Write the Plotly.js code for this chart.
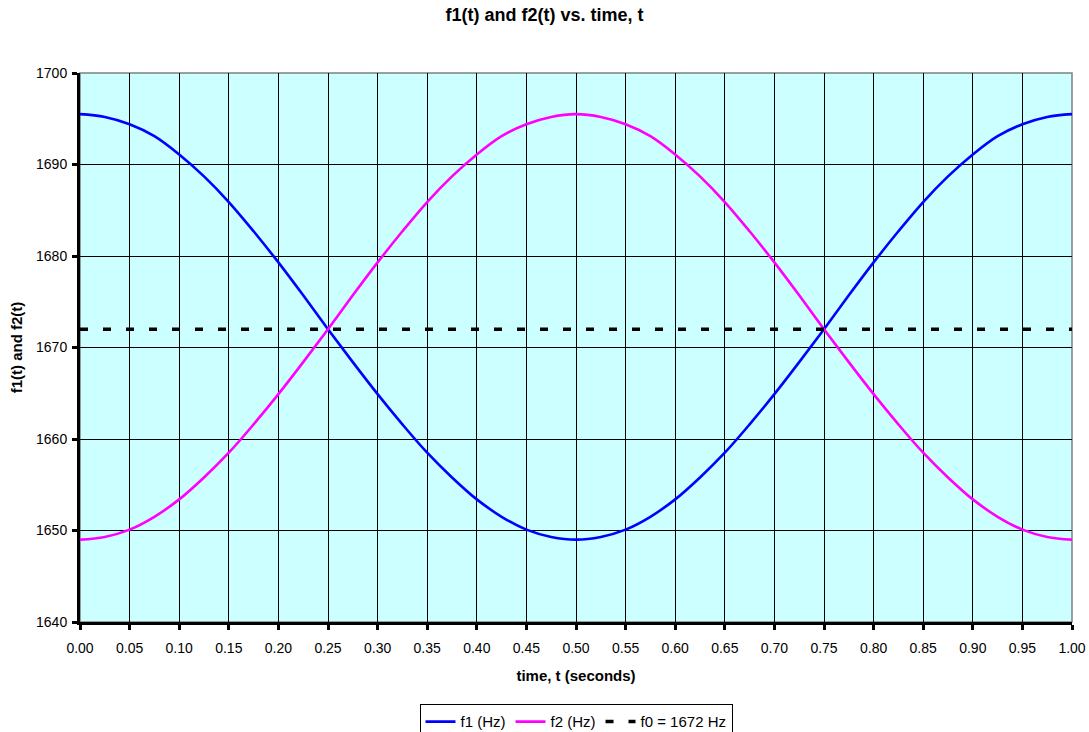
<!DOCTYPE html>
<html>
<head>
<meta charset="utf-8">
<script src="https://cdn.plot.ly/plotly-3.0.1.min.js"></script>
<style>
html,body{margin:0;padding:0;background:#fff;}
#chart{width:1089px;height:732px;}
</style>
</head>
<body>
<div id="chart"></div>
<script>
// time points (seconds)
var t = [0.000,0.025,0.050,0.075,0.100,0.125,0.150,0.175,0.200,0.225,0.250,0.275,0.300,0.325,0.350,0.375,0.400,0.425,0.450,0.475,
         0.500,0.525,0.550,0.575,0.600,0.625,0.650,0.675,0.700,0.725,0.750,0.775,0.800,0.825,0.850,0.875,0.900,0.925,0.950,0.975,1.000];
// f1(t) in Hz
var f1 = [1695.5,1695.2,1694.4,1693.1,1691.1,1688.7,1685.9,1682.7,1679.3,1675.7,1672.0,1668.4,1664.9,1661.6,1658.5,1655.8,1653.4,1651.5,1650.1,1649.3,
          1649.0,1649.3,1650.1,1651.5,1653.4,1655.8,1658.5,1661.6,1664.9,1668.4,1672.0,1675.7,1679.3,1682.7,1685.9,1688.7,1691.1,1693.1,1694.4,1695.2,1695.5];
// f2(t) in Hz
var f2 = [1649.0,1649.3,1650.1,1651.5,1653.4,1655.8,1658.5,1661.6,1664.9,1668.4,1672.0,1675.7,1679.3,1682.7,1685.9,1688.7,1691.1,1693.1,1694.4,1695.2,
          1695.5,1695.2,1694.4,1693.1,1691.1,1688.7,1685.9,1682.7,1679.3,1675.7,1672.0,1668.4,1664.9,1661.6,1658.5,1655.8,1653.4,1651.5,1650.1,1649.3,1649.0];
// f0 constant (Hz)
var f0t = [0.00,1.00];
var f0 = [1672,1672];
var seriesNames = ['f1 (Hz)','f2 (Hz)','f0 = 1672 Hz'];

var traces = [
  {x:t, y:f1, name:seriesNames[0], mode:'lines', line:{color:'#0000ff', width:2.6, shape:'spline', smoothing:1}},
  {x:t, y:f2, name:seriesNames[1], mode:'lines', line:{color:'#ff00ff', width:2.6, shape:'spline', smoothing:1}},
  {x:f0t, y:f0, name:seriesNames[2], mode:'lines', line:{color:'#000000', width:3.5, dash:'8px,15px'}}
];

var font = 'Liberation Sans, Arial, sans-serif';
var layout = {
  width:1089, height:732,
  margin:{l:80, r:17, t:73, b:110, autoexpand:false},
  paper_bgcolor:'#ffffff',
  plot_bgcolor:'#ccffff',
  font:{family:font, size:14, color:'#000'},
  title:{text:'<b>f1(t) and f2(t) vs. time, t</b>', x:0.5, xanchor:'center', y:0.988, yanchor:'top', font:{family:font, size:18, color:'#000'}},
  xaxis:{
    range:[0,1], dtick:0.05, tick0:0, tickformat:'.2f',
    showgrid:true, gridcolor:'#000', gridwidth:1,
    zeroline:false, showline:true, linecolor:'#000', linewidth:3,
    ticks:'outside', ticklen:5, tickwidth:3, tickcolor:'#000',
    ticklabelstandoff:6,
    tickfont:{family:font, size:14},
    title:{text:'<b>time, t (seconds)</b>', font:{family:font, size:15}, standoff:16}
  },
  yaxis:{
    range:[1640,1700], dtick:10, tick0:1640,
    showgrid:true, gridcolor:'#000', gridwidth:1,
    zeroline:false, showline:true, linecolor:'#000', linewidth:3,
    ticks:'outside', ticklen:5, tickwidth:3, tickcolor:'#000',
    ticklabelstandoff:2,
    tickfont:{family:font, size:14},
    title:{text:'<b>f1(t) and f2(t)</b>', font:{family:font, size:15}, standoff:10}
  },
  shapes:[
    {type:'rect', xref:'paper', yref:'paper', x0:0, x1:1, y0:0, y1:1, line:{color:'#808080', width:1.5}, layer:'below'}
  ],
  showlegend:true,
  legend:{orientation:'h', x:0.5, xanchor:'center', y:-0.150, yanchor:'top',
    bordercolor:'#000', borderwidth:1, bgcolor:'#fff',
    font:{family:font, size:15}, itemwidth:30, tracegroupgap:0}
};

Plotly.newPlot('chart', traces, layout, {displayModeBar:false, staticPlot:true});
</script>
</body>
</html>
